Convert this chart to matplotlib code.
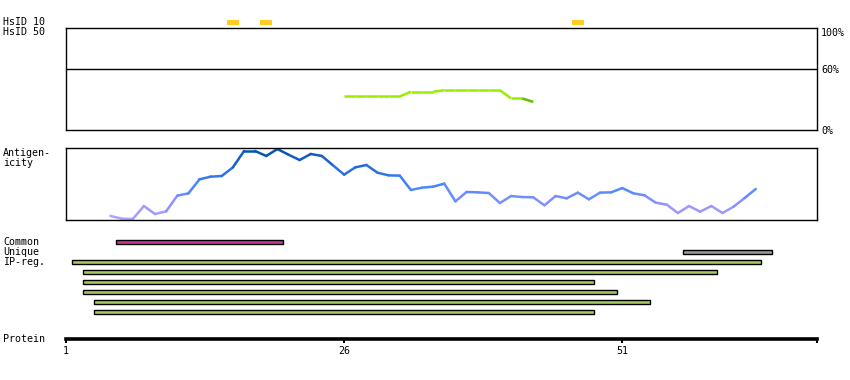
import matplotlib
matplotlib.use('Agg')
import matplotlib.pyplot as plt
from matplotlib.colors import LinearSegmentedColormap
from matplotlib.collections import LineCollection
import numpy as np

# Protein track data (residue numbering)
protein_end = 68.5
protein_ticks = [1, 26, 51]

# HsID 10 hits (residue positions)
hsid10_pos = [16, 19, 47]
hsid50_pos = []

# Identity line (%), residues 26..43
ident_res = list(range(26, 44))
ident_val = [33, 33, 33, 33, 33, 33, 37.5, 37.5, 37.5, 39, 39, 39, 39, 39, 39, 31, 31, 27.5]

# Antigenicity score (0-100), residues 5..63
anti_res = list(range(5, 64))
anti_val = [5.6, 1.9, 1.4, 19.4, 8.3, 12.0, 33.8, 37.0, 56.5, 60.2,
            61.1, 73.1, 95.8, 95.8, 88.9, 98.6, 90.7, 83.3, 91.7, 88.9,
            75.9, 63.0, 73.1, 76.4, 65.7, 62.0, 61.6, 41.7, 44.9, 46.3,
            50.5, 25.9, 38.9, 38.4, 37.5, 23.6, 33.3, 31.9, 31.5, 20.4,
            33.3, 30.1, 38.0, 28.7, 38.0, 38.4, 44.4, 37.0, 34.3, 24.1,
            21.3, 9.7, 19.4, 11.6, 19.4, 9.7, 18.5, 30.6, 43.1]

# Regions: (start, end) residues
common_regions = [(6, 20)]
unique_regions = [(57, 64)]
ipreg_regions = [(2, 63), (3, 59), (3, 48), (3, 50), (4, 53), (4, 48)]

W, H = 850, 380
fig = plt.figure(figsize=(W / 100, H / 100), dpi=100)
font = dict(family='DejaVu Sans Mono', fontsize=7.2)


def pix_axes(x0, y0, x1, y1):
    return fig.add_axes([x0 / W, 1 - y1 / H, (x1 - x0) / W, (y1 - y0) / H])


def label(x, y, s, **kw):
    fig.text(x / W, 1 - y / H, s, va='center', ha='left', **font, **kw)


xmin = 1

# HsID rows
ax_h = pix_axes(66, 17, 817, 37)
ax_h.set_xlim(xmin, protein_end)
ax_h.set_ylim(2, 0)
ax_h.axis('off')
for p in hsid10_pos:
    ax_h.bar(p, 0.5, bottom=0.25, width=1.05, color='#ffcc22', linewidth=0)
for p in hsid50_pos:
    ax_h.bar(p, 0.5, bottom=1.25, width=1.05, color='#ffcc22', linewidth=0)
label(3, 22, 'HsID 10')
label(3, 32, 'HsID 50')

# Identity panel
ax_i = pix_axes(66, 28, 817, 130)
ax_i.set_xlim(xmin, protein_end)
ax_i.set_ylim(0, 100)
ax_i.axhline(60, color='black', lw=1.0)
ident_colors = ['#99ee00' if min(a, b) > 30 else '#66bb00'
                for a, b in zip(ident_val[:-1], ident_val[1:])]
segs = [[(ident_res[k], ident_val[k]), (ident_res[k + 1], ident_val[k + 1])]
        for k in range(len(ident_res) - 1)]
ax_i.add_collection(LineCollection(segs, colors=ident_colors, linewidths=1.8,
                                   capstyle='butt'))
ax_i.set_xticks([])
ax_i.yaxis.tick_right()
ax_i.set_yticks([0, 60, 100])
ax_i.set_yticklabels(['0%', '60%', '100%'], **font)
ax_i.tick_params(axis='y', length=0, pad=3)
ax_i.get_yticklabels()[2].set_va('top')
for s in ax_i.spines.values():
    s.set_linewidth(1.0)

# Antigenicity panel
ax_a = pix_axes(66, 148, 817, 220)
ax_a.set_xlim(xmin, protein_end)
ax_a.set_ylim(0, 100)
cmap = LinearSegmentedColormap.from_list(
    'anti', [(0, '#b4a4ff'), (0.2, '#9494ff'), (0.45, '#4a88ff'),
             (0.7, '#2a6fe0'), (1.0, '#0050a8')])
segs = [[(anti_res[k], anti_val[k]), (anti_res[k + 1], anti_val[k + 1])]
        for k in range(len(anti_res) - 1)]
mids = [(a + b) / 200 for a, b in zip(anti_val[:-1], anti_val[1:])]
ax_a.add_collection(LineCollection(segs, colors=cmap(mids), linewidths=1.8,
                                   capstyle='round'))
ax_a.set_xticks([])
ax_a.set_yticks([])
for s in ax_a.spines.values():
    s.set_linewidth(1.0)
label(3, 153, 'Antigen-')
label(3, 163, 'icity')

# Region bars
ax_b = pix_axes(66, 237, 817, 317)
ax_b.set_xlim(xmin, protein_end)
ax_b.set_ylim(8, 0)
ax_b.axis('off')
rows = [(common_regions, '#cc3399', 0), (unique_regions, '#999999', 1)]
for k, reg in enumerate(ipreg_regions):
    rows.append(([reg], '#a8c860', 2 + k))
for regs, col, r in rows:
    for a, b in regs:
        ax_b.barh(r + 0.5, b - a + 1, left=a - 0.5, height=0.45,
                  color=col, edgecolor='black', linewidth=1.0)
label(3, 242, 'Common')
label(3, 252, 'Unique')
label(3, 262, 'IP-reg.')

# Protein axis
ax_p = pix_axes(66, 320, 817, 339)
ax_p.set_xlim(xmin, protein_end)
ax_p.set_yticks([])
for side in ['top', 'left', 'right']:
    ax_p.spines[side].set_visible(False)
ax_p.spines['bottom'].set_linewidth(2.6)
ax_p.set_xticks(protein_ticks)
ax_p.set_xticklabels([str(t) for t in protein_ticks], **font)
ax_p.set_xticks([protein_end], minor=True)
ax_p.tick_params(axis='x', which='both', length=3, width=1.5, pad=2)
ax_p.patch.set_visible(False)
label(3, 339, 'Protein')

fig.savefig('out.png', dpi=100)
